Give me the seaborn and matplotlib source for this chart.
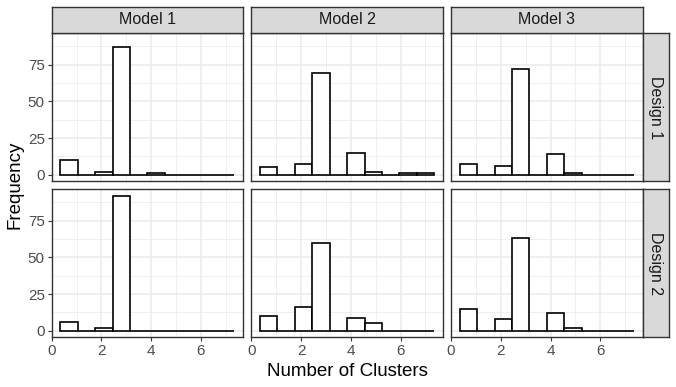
import matplotlib
matplotlib.use('Agg')
import matplotlib.pyplot as plt
import seaborn as sns
import pandas as pd

# cluster counts per model / design (100 runs each)
clusters = [1, 2, 3, 4, 5, 6, 7]
models = ["Model 1", "Model 2", "Model 3"]
designs = ["Design 1", "Design 2"]

d1_m1 = [10, 2, 87, 1, 0, 0, 0]
d1_m2 = [5, 7, 69, 15, 2, 1, 1]
d1_m3 = [7, 6, 72, 14, 1, 0, 0]
d2_m1 = [6, 2, 92, 0, 0, 0, 0]
d2_m2 = [10, 16, 60, 9, 5, 0, 0]
d2_m3 = [15, 8, 63, 12, 2, 0, 0]

counts = {
    ("Design 1", "Model 1"): d1_m1,
    ("Design 1", "Model 2"): d1_m2,
    ("Design 1", "Model 3"): d1_m3,
    ("Design 2", "Model 1"): d2_m1,
    ("Design 2", "Model 2"): d2_m2,
    ("Design 2", "Model 3"): d2_m3,
}

rows = []
for (d, m), vals in counts.items():
    for c, n in zip(clusters, vals):
        rows.append({"design": d, "model": m, "clusters": c, "n": n})
df = pd.DataFrame(rows)

sns.set_style("white")
plt.rcParams['font.family'] = ['Liberation Sans', 'DejaVu Sans']

W, H = 676, 387
fig, axes = plt.subplots(2, 3, figsize=(W / 100, H / 100), dpi=100,
                         sharex=True, sharey=True)
fig.subplots_adjust(left=51.7 / W, right=642.5 / W, top=1 - 33 / H,
                    bottom=1 - 337.5 / H, wspace=0.0433, hspace=0.051)

border = '#333333'
grid = '#EBEBEB'
strip_fill = '#D9D9D9'
ymax = 92

for i, d in enumerate(designs):
    for j, m in enumerate(models):
        ax = axes[i, j]
        sub = df[(df.design == d) & (df.model == m)]
        sns.histplot(data=sub, x="clusters", weights="n", binwidth=0.7,
                     binrange=(0.35, 7.35), color="white", edgecolor="black",
                     linewidth=1.2, alpha=1, ax=ax, zorder=3)
        ax.set_xlim(0, 7.7)
        ax.set_ylim(-0.05 * ymax, 1.05 * ymax)
        ax.set_xticks([0, 2, 4, 6])
        ax.set_xticks([1, 3, 5, 7], minor=True)
        ax.set_yticks([0, 25, 50, 75])
        ax.set_yticks([12.5, 37.5, 62.5, 87.5], minor=True)
        ax.grid(True, which='major', color=grid, linewidth=1.1, zorder=0)
        ax.grid(True, which='minor', color=grid, linewidth=0.55, zorder=0)
        ax.set_axisbelow(True)
        for s in ax.spines.values():
            s.set_color(border)
            s.set_linewidth(1.0)
            s.set_zorder(5)
        ax.tick_params(which='major', length=3, width=0.8, color=border,
                       labelsize=11, labelcolor='#4D4D4D', pad=2,
                       bottom=(i == 1), left=(j == 0))
        ax.tick_params(which='minor', length=0)
        ax.set_xlabel("")
        ax.set_ylabel("")

        pos = ax.get_position()
        if i == 0:
            sax = fig.add_axes([pos.x0, pos.y1, pos.width, 26 / H])
            sax.set_facecolor(strip_fill)
            sax.set_xticks([]); sax.set_yticks([])
            for s in sax.spines.values():
                s.set_color(border); s.set_linewidth(1.0)
            sax.text(0.5, 0.5, m, ha='center', va='center', fontsize=11.5,
                     color='#1A1A1A', transform=sax.transAxes)
        if j == 2:
            sax = fig.add_axes([pos.x1, pos.y0, 26 / W, pos.height])
            sax.set_facecolor(strip_fill)
            sax.set_xticks([]); sax.set_yticks([])
            for s in sax.spines.values():
                s.set_color(border); s.set_linewidth(1.0)
            sax.text(0.5, 0.5, d, ha='center', va='center', fontsize=11.5,
                     rotation=270, color='#1A1A1A', transform=sax.transAxes)

fig.text(347 / W, 1 - 371 / H, "Number of Clusters", ha='center',
         va='center', fontsize=13.5, color='black')
fig.text(15 / W, 1 - 185 / H, "Frequency", ha='center', va='center',
         rotation=90, fontsize=13.5, color='black')

fig.savefig("out.png", dpi=100)
plt.close(fig)
